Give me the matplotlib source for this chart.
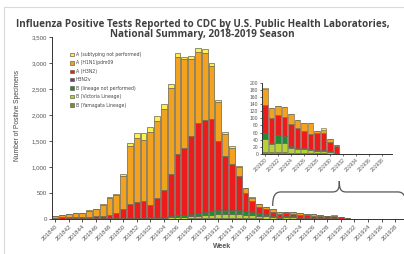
import matplotlib
matplotlib.use('Agg')
import matplotlib.pyplot as plt
from matplotlib.path import Path
from matplotlib.patches import PathPatch, Rectangle
import numpy as np

# weeks 201840 .. 201939
weeks = [f'2018{w}' for w in range(40, 53)] + [f'2019{w:02d}' for w in range(1, 40)]

# stacked layers, bottom to top
b_yam = [1, 1, 1, 1, 1, 1, 1, 2, 2, 2, 2, 2, 3, 3, 3, 4, 4, 6, 8, 9, 10, 12, 14, 15, 17, 18,
         18, 17, 15, 13, 11, 9, 7, 6, 6, 6, 4, 3, 3, 3, 2, 2, 1, 0, 0, 0, 0, 0, 0, 0, 0, 0]
b_vic = [3, 3, 4, 4, 4, 5, 5, 6, 6, 8, 9, 10, 11, 11, 13, 15, 18, 24, 33, 38, 42, 54, 63, 67, 74, 78,
         78, 76, 67, 58, 49, 40, 34, 22, 24, 26, 14, 10, 10, 8, 7, 7, 5, 2, 0, 0, 0, 0, 0, 0, 0, 0]
b_nl = [4, 4, 5, 5, 5, 6, 6, 7, 7, 8, 9, 10, 11, 11, 14, 16, 18, 25, 34, 38, 43, 54, 63, 68, 74, 79,
        79, 77, 68, 59, 50, 41, 19, 4, 23, 19, 4, 3, 3, 2, 2, 2, 2, 2, 0, 0, 0, 0, 0, 0, 0, 0]
h3n2v = [0] * 52
h3n2 = [17, 22, 25, 35, 30, 33, 38, 45, 60, 97, 170, 268, 300, 320, 240, 365, 517, 807, 1180, 1290,
        1495, 1735, 1770, 1765, 1335, 1035, 883, 660, 350, 210, 130, 95, 77, 68, 56, 54, 61, 58, 48,
        43, 47, 47, 25, 18, 0, 0, 0, 0, 0, 0, 0, 0]
h1n1 = [33, 47, 61, 75, 70, 114, 137, 215, 325, 345, 640, 1115, 1225, 1175, 1410, 1480, 1568, 1658,
        1870, 1695, 1485, 1350, 1275, 1030, 755, 425, 312, 170, 88, 72, 44, 40, 46, 30, 27, 26, 28,
        21, 24, 30, 6, 9, 9, 4, 0, 0, 0, 0, 0, 0, 0, 0]
a_nosub = [2, 3, 4, 5, 5, 6, 8, 10, 15, 20, 45, 65, 110, 140, 95, 110, 80, 75, 65, 50, 50, 85, 75,
           60, 35, 45, 30, 20, 12, 8, 6, 5, 2, 0, 0, 0, 0, 0, 0, 0, 0, 7, 0, 0, 0, 0, 0, 0, 0, 0, 0, 0]

layers = [
    ('B (Yamagata Lineage)', b_yam, '#6f8f3a'),
    ('B (Victoria Lineage)', b_vic, '#b5d334'),
    ('B (lineage not performed)', b_nl, '#1e8a3a'),
    ('H3N2v', h3n2v, '#7030a0'),
    ('A (H3N2)', h3n2, '#ec1c1c'),
    ('A (H1N1)pdm09', h1n1, '#f2a21e'),
    ('A (subtyping not performed)', a_nosub, '#fbf14a'),
]
inset_start = 32  # 201920

W, H = 404, 254
fig = plt.figure(figsize=(W / 100, H / 100), dpi=100)
# faint slide frame (left and top edges show)
fig.patches.append(Rectangle((4 / W, -0.1), 1.1, 1.1 - 7 / H,
                             transform=fig.transFigure, fill=False, ec='#d9d9d9', lw=0.8))

tick_c = '#555555'


def draw(ax, sl, lw):
    x = np.arange(len(weeks[sl]))
    bottom = np.zeros(len(x))
    for name, vals, col in layers:
        v = np.array(vals[sl], dtype=float)
        ax.bar(x, v, 0.86, bottom=bottom, color=col, edgecolor='#6b6350', linewidth=lw, label=name)
        bottom += v
    for s in ['top', 'right']:
        ax.spines[s].set_visible(False)
    for s in ['left', 'bottom']:
        ax.spines[s].set_color('#333333')
        ax.spines[s].set_linewidth(0.7)
    return x


# main chart
ax = fig.add_axes([51.7 / W, 35 / H, 353.6 / W, 182 / H])
x = draw(ax, slice(None), 0.5)
ax.set_xlim(-0.5, 51.5)
ax.set_ylim(0, 3500)
ax.set_yticks(range(0, 3501, 500))
ax.set_yticklabels([f'{v:,}' for v in range(0, 3501, 500)], fontsize=4.4, color=tick_c,
                   family='Liberation Sans')
ax.set_xticks(x[::2])
ax.set_xticklabels(weeks[::2], rotation=45, ha='right', rotation_mode='anchor', fontsize=4.3,
                   color=tick_c, family='Liberation Sans')
ax.tick_params(length=2, width=0.6, pad=1.5, color='#333333')
ax.set_ylabel('Number of Positive Specimens', fontsize=4.8, color='#444444',
              family='Liberation Sans')
ax.yaxis.set_label_coords(-0.088, 0.57)
fig.text(222 / W, 1 - 246 / H, 'Week', fontsize=5, weight='bold', color='#555555',
         ha='center', va='center', family='Liberation Sans')

h, l = ax.get_legend_handles_labels()
leg = ax.legend(h[::-1], l[::-1], loc='upper left', bbox_to_anchor=(70 / W, 1 - 52 / H),
                bbox_transform=fig.transFigure, frameon=False, fontsize=3.3,
                handlelength=0.8, handleheight=0.8, handletextpad=0.4, labelspacing=0.75,
                borderaxespad=0, borderpad=0)
for t in leg.get_texts():
    t.set_color('#444444')

# brace under the late weeks, in data units of the main axes
bx0, bx1 = inset_start, 51.6
bm = (bx0 + bx1) / 2
brace = [(bx0, 250), (bx0, 430), (bx0 + 0.3, 520), (bx0 + 1.2, 520),
         (bm - 1.0, 520), (bm - 0.1, 520), (bm, 600), (bm, 730),
         (bm, 600), (bm + 0.1, 520), (bm + 1.0, 520),
         (bx1 - 1.2, 520), (bx1 - 0.3, 520), (bx1, 430), (bx1, 250)]
codes = [Path.MOVETO, Path.CURVE4, Path.CURVE4, Path.CURVE4,
         Path.LINETO, Path.CURVE4, Path.CURVE4, Path.CURVE4,
         Path.CURVE4, Path.CURVE4, Path.CURVE4,
         Path.LINETO, Path.CURVE4, Path.CURVE4, Path.CURVE4]
ax.add_patch(PathPatch(Path(brace, codes), fill=False, ec='#555555', lw=0.9, clip_on=False))

# inset of the late season
ins = fig.add_axes([261.7 / W, 100 / H, 130 / W, 71.3 / H])
xi = draw(ins, slice(inset_start, None), 0.4)
ins.set_xlim(-0.5, 19.5)
ins.set_ylim(0, 200)
ins.set_yticks(range(0, 201, 20))
ins.set_yticklabels([str(v) for v in range(0, 201, 20)], fontsize=3.6, color=tick_c,
                    family='Liberation Sans')
ins.set_xticks(xi[::2])
ins.set_xticklabels(weeks[inset_start::2], rotation=45, ha='right', rotation_mode='anchor',
                    fontsize=3.6, color=tick_c, family='Liberation Sans')
ins.tick_params(length=1.5, width=0.5, pad=1, color='#333333')

fig.text(0.502, 1 - 25 / H, 'Influenza Positive Tests Reported to CDC by U.S. Public Health Laboratories,',
         fontsize=7.1, weight='bold', color='#404040', ha='center', va='center', family='Open Sans')
fig.text(0.502, 1 - 34.5 / H, 'National Summary, 2018-2019 Season',
         fontsize=7.1, weight='bold', color='#404040', ha='center', va='center', family='Open Sans')

fig.savefig('out.png', dpi=100)
